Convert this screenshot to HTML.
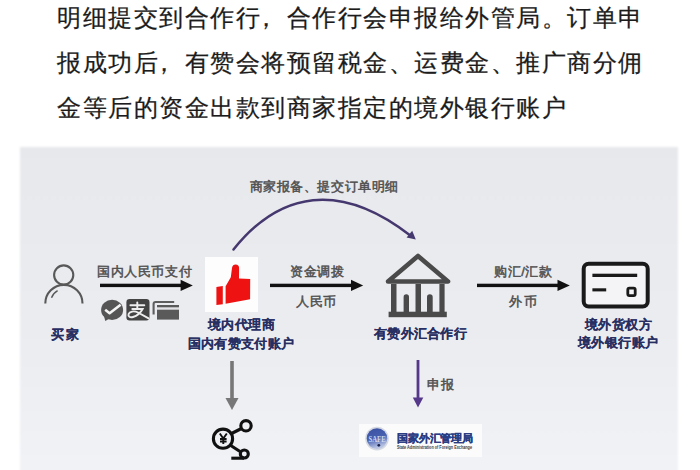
<!DOCTYPE html>
<html><head><meta charset="utf-8">
<style>
html,body{margin:0;padding:0;background:#fff;}
body{width:700px;height:470px;position:relative;overflow:hidden;font-family:"Liberation Sans",sans-serif;}
.p{position:absolute;left:57px;font-size:24px;letter-spacing:1.5px;color:#1c1c1c;white-space:nowrap;line-height:30px;-webkit-text-stroke:0.25px #1c1c1c;}
.c{position:relative;left:-7px;}
.panel{position:absolute;left:20px;top:147px;width:658px;height:340px;background:linear-gradient(#e7e8ec 0%,#e8e9ed 4.4%,#ecedf1 59.7%,#f1f2f6 92%,#f1f2f6 100%);filter:blur(1.2px);}
.t{position:absolute;white-space:nowrap;font-size:13px;line-height:16px;color:#505050;letter-spacing:0.6px;-webkit-text-stroke:0.5px #505050;}
.b{position:absolute;white-space:nowrap;font-size:13px;line-height:16px;color:#272e62;font-weight:bold;letter-spacing:0.4px;-webkit-text-stroke:0.1px #272e62;}
svg{position:absolute;left:0;top:0;}
</style></head><body>
<div class="p" style="top:3px">明细提交到合作行<span class="c">，</span>合作行会申报给外管局。订单申</div>
<div class="p" style="top:48px">报成功后<span class="c">，</span>有赞会将预留税金、运费金、推广商分佣</div>
<div class="p" style="top:93px">金等后的资金出款到商家指定的境外银行账户</div>

<div class="panel"></div>

<div class="t" style="left:249.5px;top:179px">商家报备、提交订单明细</div>
<div class="t" style="left:97px;top:264px">国内人民币支付</div>
<div class="t" style="left:290px;top:263.5px">资金调拨</div>
<div class="t" style="left:296px;top:294px">人民币</div>
<div class="t" style="left:494px;top:263.5px">购汇/汇款</div>
<div class="t" style="left:509px;top:294px;letter-spacing:1.5px">外币</div>
<div class="t" style="left:427px;top:377px;letter-spacing:1.2px">申报</div>

<div class="b" style="left:51px;top:326.5px;letter-spacing:1.5px">买家</div>
<div class="b" style="left:208px;top:317px">境内代理商</div>
<div class="b" style="left:187.5px;top:336px">国内有赞支付账户</div>
<div class="b" style="left:374px;top:325.5px;letter-spacing:0.3px">有赞外汇合作行</div>
<div class="b" style="left:585px;top:316.5px">境外货权方</div>
<div class="b" style="left:578px;top:334.5px">境外银行账户</div>

<svg width="700" height="470" viewBox="0 0 700 470">
  <!-- person -->
  <g fill="none" stroke="#585858" stroke-width="2.1">
    <circle cx="63.7" cy="275" r="9.6"/>
    <path d="M45.3 303.5 A18.6 18.6 0 0 1 82.5 303.5"/>
    <path d="M51.5 297.8 Q53.2 293 57.6 290.6" stroke-width="1.5"/>
  </g>
  <!-- arrows black -->
  <g fill="#111" stroke="none">
    <rect x="100" y="283.7" width="82" height="3.4"/>
    <path d="M180.6 279.7 L192.8 285.4 L180.6 291.1 Z"/>
    <rect x="270" y="283.7" width="83" height="3.4"/>
    <path d="M351 279.7 L363.2 285.4 L351 291.1 Z"/>
    <rect x="477" y="283.7" width="82" height="3.4"/>
    <path d="M557.5 279.7 L569.8 285.4 L557.5 291.1 Z"/>
  </g>
  <!-- payment icons -->
  <g>
    <ellipse cx="112.1" cy="309.9" rx="11" ry="10.1" fill="#555"/>
    <path d="M103.8 315.5 L105.3 321 L109.5 318.5 Z" fill="#555"/>
    <path d="M105.2 309.8 L109.6 313.2 L120.6 304.8" fill="none" stroke="#f4f4f4" stroke-width="2.6" stroke-linejoin="round"/>
    <rect x="126.4" y="299" width="23.1" height="21.5" rx="3.2" fill="#444"/>
    <g fill="none" stroke="#eee" stroke-width="1.9" stroke-linecap="round">
      <path d="M130.4 305.2 H144.3"/>
      <path d="M137.3 302.4 V308.2"/>
      <path d="M132.3 309 H142.6 C141 312 137 315.8 133 317 C129.5 318 128 316 128.6 314 C129.5 311.5 134 310.5 138 312.5 L148.6 318.4"/>
    </g>
    <path d="M153.6 314.5 V304 Q153.6 302 155.6 302 H174.2" fill="none" stroke="#5e5e5e" stroke-width="2.1"/>
    <rect x="157" y="305" width="22" height="14.6" fill="#5a5a5a"/>
    <rect x="157" y="307.3" width="22" height="2.4" fill="#e2e2e4"/>
  </g>
  <!-- thumbs box -->
  <rect x="205" y="257" width="53" height="55" fill="#fdfdfd"/>
  <g fill="#ee1212">
    <path d="M216.4 287 L222.8 286 L222.8 304.2 L216.4 305 Z"/>
    <path d="M225.6 303.7 L225.6 286.2 L230.8 277.2 L232 268 C232.3 265.5 233.8 264.4 235.6 264.4 C237.8 264.4 239.1 265.8 239.1 268 L239 278.6 L250.2 279 L250.1 299.3 Z"/>
  </g>
  <!-- purple arc -->
  <path d="M233.5 249.5 C280 191.1 340.1 181.1 410 235.2" fill="none" stroke="#45386e" stroke-width="2.5" stroke-linecap="round"/>
  <path d="M415.8 239.6 L406.6 237.4 L412.2 230.8 Z" fill="#45386e"/>
  <!-- bank -->
  <g fill="#4a4a4a">
    <path d="M388 281.5 L418 256 L448 281.5 Z" fill="none" stroke="#4a4a4a" stroke-width="4.6" stroke-linejoin="round"/>
    <rect x="391" y="284" width="5.5" height="28"/>
    <rect x="415.5" y="284" width="5.5" height="28"/>
    <rect x="439.4" y="284" width="5.2" height="28"/>
    <path d="M403.6 297 A2.7 2.7 0 0 1 409 297 V312 H403.6 Z"/>
    <path d="M427 297 A2.85 2.85 0 0 1 432.7 297 V312 H427 Z"/>
    <rect x="388.6" y="311.7" width="58.2" height="5.5"/>
  </g>
  <!-- card -->
  <rect x="583.7" y="263.7" width="64" height="42.8" rx="5" fill="#f4f4f6" stroke="#1a1a1a" stroke-width="4"/>
  <rect x="592.4" y="273.7" width="44.8" height="3.3" fill="#1a1a1a"/>
  <rect x="592.4" y="288.3" width="13.8" height="3.1" fill="#1a1a1a"/>
  <rect x="627.8" y="288.1" width="7.4" height="7.5" rx="1.6" fill="none" stroke="#1a1a1a" stroke-width="2.8"/>
  <!-- gray down arrow -->
  <rect x="230.2" y="361" width="3.6" height="39" fill="#777"/>
  <path d="M225.5 398 L238.5 398 L232 410 Z" fill="#777"/>
  <!-- yuan icon -->
  <g fill="none" stroke="#111" stroke-width="3.1">
    <circle cx="223" cy="438.7" r="9.6"/>
    <circle cx="246" cy="425.8" r="5.2"/>
    <circle cx="244.3" cy="454" r="4"/>
    <path d="M231.5 433.5 L241.5 428.5"/>
    <path d="M230 445 L240 451.5"/>
    <path d="M231.3 458.2 L244 458.2"/>
  </g>
  <g fill="none" stroke="#111" stroke-width="1.9">
    <path d="M219.8 433.5 L223.3 438.5 L226.8 433.5 M223.3 438.5 V444 M220 439 H226.6 M220 441.5 H226.6"/>
  </g>
  <!-- purple down arrow -->
  <rect x="416.6" y="360" width="2.8" height="39" fill="#55388a"/>
  <path d="M412.8 397.5 L423.3 397.5 L418 407.5 Z" fill="#55388a"/>
  <!-- SAFE logo -->
  <rect x="359" y="424" width="123" height="33" fill="#fbfbfc"/>
  <defs><linearGradient id="gl" x1="0" y1="0" x2="0.3" y2="1"><stop offset="0" stop-color="#3a4fa2"/><stop offset="0.55" stop-color="#4860b0"/><stop offset="1" stop-color="#b9c4e4"/></linearGradient></defs>
  <circle cx="377" cy="438.6" r="11.8" fill="#d5d9e2"/>
  <circle cx="377" cy="438.6" r="10.3" fill="url(#gl)"/>
  <text x="368.6" y="442" font-size="8.5" font-weight="bold" fill="#dfe5f5" fill-opacity="0.9" font-family="Liberation Serif" textLength="17" lengthAdjust="spacingAndGlyphs">SAFE</text>
  <circle cx="378.8" cy="445.3" r="1.4" fill="#1d2550"/>
  <text x="397" y="442" font-size="10.5" font-weight="bold" fill="#2c3c82" stroke="#2c3c82" stroke-width="0.3" textLength="76">国家外汇管理局</text>
  <text x="397" y="449.2" font-size="4.6" font-weight="bold" fill="#3a3a3a" textLength="75" lengthAdjust="spacingAndGlyphs">State Administration of Foreign Exchange</text>
</svg>
</body></html>
